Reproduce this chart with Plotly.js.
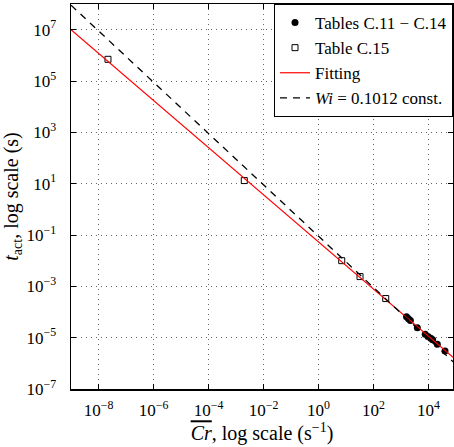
<!DOCTYPE html>
<html>
<head>
<meta charset="utf-8">
<script src="https://cdn.plot.ly/plotly-3.0.1.min.js"></script>
<style>html,body{margin:0;padding:0;background:#fff;}#chart{width:454px;height:447px;}</style>
</head>
<body>
<div id="chart"></div>
<script>
// Tables C.11 - C.14 (filled dots)
var dotsCr = [1585, 1862, 2188, 3917, 7586, 9550, 12020, 14125, 20893, 39811];
var dotsT  = [6.5e-5, 5.5e-5, 4.7e-5, 2.43e-5, 1.35e-5, 1.12e-5, 9.5e-6, 8.3e-6, 5.5e-6, 3.0e-6];
// Table C.15 (open squares)
var sqCr = [2.21e-8, 2.0e-3, 6.98, 32.3, 278];
var sqT  = [7.0e5, 13.2, 1.0e-2, 2.4e-3, 3.34e-4];
// Fitting line
var fitCr = [1e-9, 1e5];
var fitT  = [1e7, 1.36e-6];
// Wi = 0.1012 const. line
var wiCr = [1e-9, 1e5];
var wiT  = [9.0e7, 9.0e-7];
// Tick labels
var xTickVals = [1e-8, 1e-6, 1e-4, 1e-2, 1e0, 1e2, 1e4];
var xTickText = ['10<sup>−8</sup>', '10<sup>−6</sup>', '10<sup>−4</sup>', '10<sup>−2</sup>', '10<sup>0</sup>', '10<sup>2</sup>', '10<sup>4</sup>'];
var yTickVals = [1e-7, 1e-5, 1e-3, 1e-1, 1e1, 1e3, 1e5, 1e7];
var yTickText = ['10<sup>−7</sup>', '10<sup>−5</sup>', '10<sup>−3</sup>', '10<sup>−1</sup>', '10<sup>1</sup>', '10<sup>3</sup>', '10<sup>5</sup>', '10<sup>7</sup>'];
var legendNames = ['Tables C.11 − C.14', 'Table C.15', 'Fitting', '<i>Wi</i> = 0.1012 const.'];

var FONT = 'Times New Roman, Liberation Serif, DejaVu Serif, serif';

var traces = [
  {x: dotsCr, y: dotsT, mode: 'markers', type: 'scatter', name: legendNames[0],
   marker: {symbol: 'circle', size: 7, color: '#000'}},
  {x: sqCr, y: sqT, mode: 'markers', type: 'scatter', name: legendNames[1],
   marker: {symbol: 'square-open', size: 6, color: '#000', line: {width: 1}}},
  {x: fitCr, y: fitT, mode: 'lines', type: 'scatter', name: legendNames[2],
   line: {color: '#ff0000', width: 1.2}},
  {x: wiCr, y: wiT, mode: 'lines', type: 'scatter', name: legendNames[3],
   line: {color: '#000', width: 1.3, dash: '7px,6px'}}
];

var axisCommon = {
  type: 'log',
  tickmode: 'array',
  showline: true, linecolor: '#000', linewidth: 1.5, mirror: 'ticks',
  ticks: 'inside', ticklen: 5, tickwidth: 1, tickcolor: '#000',
  showgrid: true, gridcolor: '#666', griddash: '1px,4px', gridwidth: 1,
  zeroline: false,
  tickfont: {family: FONT, size: 17, color: '#000'}
};

var layout = {
  width: 454, height: 447,
  margin: {l: 71, r: 1, t: 4, b: 58},
  paper_bgcolor: '#fff', plot_bgcolor: '#fff',
  font: {family: FONT, color: '#000'},
  showlegend: true,
  xaxis: Object.assign({}, axisCommon, {
    range: [-9, 4.89],
    tickvals: xTickVals, ticktext: xTickText,
    ticklabelstandoff: 5,
    title: {text: '<span style="text-decoration:overline"><i>Cr</i></span>, log scale (s<sup>−1</sup>)',
            font: {family: FONT, size: 20, color: '#000'}, standoff: 6}
  }),
  yaxis: Object.assign({}, axisCommon, {
    range: [-7, 8],
    tickvals: yTickVals, ticktext: yTickText,
    ticklabelstandoff: 10,
    title: {text: '<i>t</i><sub>act</sub>, log scale (s)',
            font: {family: FONT, size: 20, color: '#000'}, standoff: 6}
  }),
  legend: {
    x: 1, y: 1, xanchor: 'right', yanchor: 'top',
    bgcolor: '#fff', bordercolor: '#000', borderwidth: 1,
    font: {family: FONT, size: 17, color: '#000'},
    itemwidth: 30, tracegroupgap: 0
  }
};

Plotly.newPlot('chart', traces, layout, {displayModeBar: false, staticPlot: true});
</script>
</body>
</html>
